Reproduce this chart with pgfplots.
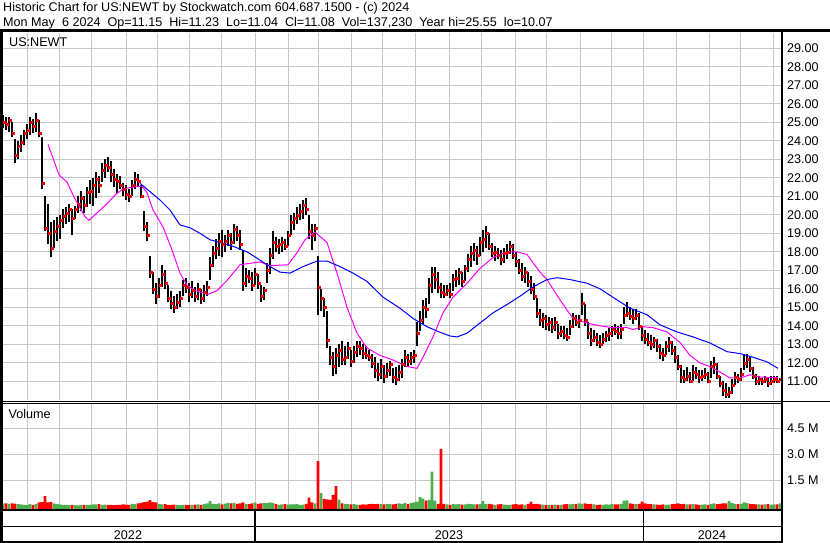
\documentclass[border=0pt]{standalone}
\usepackage{fontspec}
\setmainfont{Liberation Sans}
\usepackage{pgfplots}
\pgfplotsset{compat=1.18}
\usepackage{pgfplotstable}

\definecolor{gridgray}{RGB}{200,200,200}
\definecolor{upgreen}{RGB}{76,176,80}
\definecolor{dnred}{RGB}{255,0,0}
\definecolor{maone}{RGB}{255,0,255}
\definecolor{matwo}{RGB}{0,0,255}
\newcommand{\chartfont}{\fontsize{12.6}{14}\selectfont}

% daily bars, x in chart pixels: low, high, close
\pgfplotstableread{
x lo hi cl
3 24.7 25.4 25.0
6 24.6 25.3 24.9
9 24.5 25.3 25.1
12 24.2 25.0 24.4
15 22.8 24.1 23.2
18 23.0 24.0 23.7
21 23.4 24.3 23.9
24 23.8 24.6 24.4
27 24.1 24.9 24.6
30 24.3 25.3 25.0
33 24.4 25.2 24.8
36 24.5 25.5 25.1
39 24.2 25.1 24.4
42 21.4 24.2 21.7
45 19.1 21.0 19.3
48 18.4 20.6 19.0
51 17.7 19.6 18.2
54 18.2 19.7 19.1
57 18.6 19.9 19.4
60 18.7 20.0 19.7
63 19.3 20.3 19.9
66 19.5 20.4 20.1
69 19.6 20.6 20.3
72 18.9 20.3 19.8
75 19.8 20.5 20.3
78 20.1 21.0 20.6
81 20.2 21.3 20.9
84 20.1 21.0 20.5
87 20.4 21.5 21.2
90 20.6 21.9 21.3
93 20.5 22.0 21.6
96 20.9 22.3 21.9
99 21.2 22.1 21.6
102 21.8 22.8 22.4
105 22.0 23.0 22.7
108 22.3 23.1 22.6
111 21.8 22.9 22.2
114 21.5 22.5 21.9
117 21.2 22.2 21.8
120 21.4 22.1 21.6
123 21.0 21.7 21.4
126 20.8 21.6 21.1
129 20.7 21.4 21.0
132 21.0 21.9 21.6
135 21.4 22.3 21.9
138 21.5 22.2 21.8
141 20.9 21.6 21.0
144 19.1 20.2 19.4
147 18.6 19.6 18.9
150 16.6 17.8 16.9
153 15.7 16.9 16.0
156 15.2 16.3 15.6
159 15.5 16.6 16.2
162 16.1 17.3 16.8
165 16.0 17.0 16.3
168 15.3 16.2 15.5
171 14.9 15.9 15.2
174 14.7 15.6 15.0
177 14.9 15.7 15.3
180 15.0 15.9 15.5
183 15.6 16.5 16.2
186 15.8 16.6 16.1
189 15.3 16.3 15.7
192 15.5 16.4 15.9
195 15.3 16.1 15.6
198 15.4 16.3 16.0
201 15.2 16.0 15.5
204 15.3 16.2 15.8
207 15.6 16.4 16.1
210 16.5 17.7 17.3
213 17.2 18.3 17.9
216 17.6 18.7 18.2
219 17.8 19.0 18.6
222 17.7 19.2 18.4
225 18.0 18.9 18.6
228 18.3 19.2 18.9
231 18.1 19.0 18.5
234 18.4 19.5 19.2
237 18.6 19.4 18.9
240 18.1 19.2 18.4
243 15.9 18.1 16.3
246 16.1 17.1 16.7
249 16.3 17.0 16.6
252 15.9 16.9 16.2
255 16.2 17.1 16.8
258 16.0 16.8 16.3
261 15.3 16.2 15.6
264 15.4 16.1 15.9
267 16.3 17.4 17.0
270 16.8 18.2 17.8
273 17.6 19.1 18.5
276 18.0 18.8 18.3
279 17.9 18.7 18.4
282 18.0 18.8 18.5
285 18.1 18.7 18.3
288 18.3 19.1 18.9
291 18.9 20.0 19.6
294 19.2 20.1 19.8
297 19.5 20.4 20.0
300 19.7 20.6 20.2
303 19.8 20.8 20.5
306 20.0 20.9 20.3
309 18.7 20.0 19.1
312 18.1 19.5 18.9
315 18.6 19.5 19.3
318 14.6 17.8 16.1
321 14.8 16.0 15.5
324 14.5 15.5 15.0
327 12.8 14.8 13.2
330 11.9 12.9 12.3
333 11.3 12.6 11.8
336 11.4 12.8 12.4
339 11.8 13.0 12.7
342 11.9 13.2 12.2
345 11.9 12.9 12.3
348 12.2 13.1 12.8
351 11.8 12.7 12.1
354 12.0 12.9 12.6
357 12.3 13.2 12.9
360 12.4 13.2 12.8
363 12.2 13.0 12.5
366 12.2 12.9 12.4
369 12.1 12.7 12.3
372 11.7 12.5 12.0
375 11.2 12.3 11.6
378 11.0 12.0 11.4
381 11.1 12.2 11.8
384 10.9 11.9 11.3
387 11.2 12.0 11.6
390 11.3 12.1 11.9
393 10.9 11.7 11.2
396 10.8 11.8 11.1
399 11.0 11.9 11.5
402 11.2 12.2 11.9
405 11.8 12.7 12.3
408 11.8 12.5 12.1
411 11.9 12.6 12.3
414 12.0 12.7 12.4
417 12.9 14.2 13.6
420 13.7 14.8 14.3
423 14.1 15.4 15.0
426 14.4 15.5 14.9
429 15.2 16.6 16.2
432 15.8 17.2 16.8
435 16.0 17.2 16.5
438 15.8 16.9 16.1
441 15.5 16.3 15.8
444 15.5 16.2 15.7
447 15.6 16.2 15.9
450 15.5 16.3 15.7
453 15.9 16.8 16.5
456 16.1 17.0 16.6
459 16.2 17.1 16.9
462 16.1 16.9 16.4
465 16.4 17.3 17.1
468 16.9 17.9 17.6
471 17.2 18.3 17.9
474 17.5 18.5 18.1
477 17.3 18.3 17.8
480 17.8 18.8 18.5
483 18.0 19.2 18.7
486 18.2 19.4 19.0
489 18.1 19.0 18.3
492 17.7 18.5 17.9
495 17.5 18.3 18.0
498 17.6 18.2 17.8
501 17.3 18.1 17.6
504 17.4 18.2 17.9
507 17.6 18.4 18.0
510 17.9 18.6 18.3
513 17.6 18.4 17.8
516 17.2 18.0 17.5
519 16.8 17.6 17.0
522 16.4 17.4 16.7
525 16.3 17.2 16.9
528 16.1 16.9 16.4
531 15.7 16.7 16.0
534 15.4 16.3 15.6
537 14.4 15.5 14.7
540 14.0 14.9 14.3
543 13.9 14.7 14.4
546 13.8 14.6 14.1
549 13.7 14.5 14.2
552 13.6 14.4 13.9
555 13.7 14.5 14.2
558 13.3 14.1 13.6
561 13.4 14.0 13.7
564 13.3 14.0 13.5
567 13.2 13.9 13.4
570 13.5 14.3 14.0
573 13.9 14.7 14.4
576 14.0 14.6 14.2
579 13.9 14.6 14.3
582 14.6 15.8 15.2
585 14.0 15.2 14.3
588 13.3 14.2 13.6
591 12.9 13.9 13.2
594 13.1 13.8 13.4
597 12.9 13.6 13.1
600 12.8 13.5 13.0
603 13.0 13.6 13.3
606 13.1 13.7 13.5
609 13.2 13.9 13.6
612 13.4 14.0 13.8
615 13.5 14.1 13.7
618 13.3 14.0 13.6
621 13.3 14.1 13.8
624 14.1 15.0 14.6
627 14.5 15.3 14.7
630 14.3 15.0 14.5
633 14.1 14.9 14.4
636 14.3 14.9 14.6
639 13.8 14.7 14.0
642 13.2 14.0 13.5
645 13.0 13.8 13.3
648 12.9 13.6 13.1
651 12.7 13.5 13.0
654 12.8 13.4 13.2
657 12.6 13.3 12.9
660 12.2 13.0 12.5
663 12.1 12.8 12.4
666 12.4 13.2 12.9
669 12.6 13.4 13.1
672 12.4 13.2 12.7
675 12.0 12.9 12.3
678 11.6 12.4 11.8
681 10.9 11.9 11.2
684 10.9 11.6 11.1
687 11.0 11.8 11.3
690 10.9 11.5 11.0
693 11.0 11.9 11.5
696 11.1 11.8 11.4
699 10.9 11.6 11.2
702 11.0 11.6 11.3
705 11.1 11.7 11.4
708 10.9 11.5 11.0
711 11.2 12.1 11.8
714 11.4 12.3 11.9
717 11.1 12.0 11.3
720 10.7 11.3 10.9
723 10.2 11.0 10.5
726 10.1 10.9 10.3
729 10.1 10.7 10.4
732 10.3 11.1 10.8
735 10.8 11.5 11.2
738 10.9 11.4 11.1
741 11.0 11.7 11.4
744 11.6 12.5 12.0
747 11.7 12.5 12.2
750 11.5 12.3 11.7
753 11.1 11.8 11.3
756 10.8 11.4 11.0
759 10.8 11.3 11.1
762 10.8 11.2 11.0
765 10.9 11.3 11.1
768 10.7 11.2 10.9
771 10.8 11.3 11.0
774 10.9 11.3 11.1
777 10.9 11.3 11.0
780 11.0 11.2 11.1
}\tabohlc

% short moving average (magenta)
\pgfplotstableread{
x p
48 23.8
53 23.07
59 22.15
67 21.77
74 20.96
80 20.37
85 19.9
89 19.7
97 20.1
107 20.6
115 21.07
123 21.4
133 21.5
142 21.55
147 21.2
153 20.26
163 19.35
172 18.1
180 16.85
187 16.2
195 15.9
208 15.7
217 15.9
227 16.45
240 17.3
253 17.4
260 17.45
270 17.25
288 17.3
297 17.95
305 18.65
315 19.07
327 18.5
337 16.85
347 15.0
357 13.6
367 12.8
380 12.4
393 12.15
407 11.8
417 11.7
423 12.3
433 13.4
443 14.7
453 15.55
467 16.3
480 17.1
493 17.7
507 18.0
517 18.0
527 17.85
540 16.9
547 16.5
557 15.65
567 14.85
573 14.4
587 14.15
600 14.0
613 13.9
627 13.9
633 13.8
643 13.95
653 13.9
667 13.67
680 13.1
690 12.4
700 11.99
710 11.8
720 11.5
730 11.18
740 11.18
750 11.35
760 11.23
778 11.2
}\tabmaone

% long moving average (blue)
\pgfplotstableread{
x p
140 21.7
150 21.25
160 20.8
170 20.26
180 19.45
190 19.3
200 19.0
210 18.65
220 18.5
233 18.3
247 18.0
260 17.55
270 17.2
280 16.9
290 16.85
303 17.2
317 17.5
327 17.5
340 17.2
353 16.85
367 16.4
383 15.55
400 14.95
413 14.4
427 13.95
440 13.65
450 13.45
457 13.4
467 13.6
480 14.15
493 14.7
507 15.15
520 15.6
533 16.1
547 16.5
557 16.6
570 16.5
587 16.3
600 16.0
617 15.4
630 14.95
647 14.6
660 14.05
677 13.67
693 13.4
710 13.07
727 12.6
740 12.5
753 12.3
767 12.05
778 11.7
}\tabmatwo

% volume in millions, up days
\pgfplotstableread{
x v
3 0.15
9 0.12
18 0.10
21 0.08
24 0.05
27 0.04
30 0.10
36 0.12
54 0.15
57 0.10
60 0.08
63 0.06
66 0.05
69 0.04
75 0.04
78 0.03
81 0.05
87 0.05
90 0.06
93 0.09
96 0.08
102 0.06
105 0.07
132 0.12
135 0.10
159 0.12
162 0.08
177 0.05
180 0.04
183 0.06
192 0.05
198 0.08
204 0.10
207 0.15
210 0.27
213 0.12
216 0.10
219 0.14
225 0.13
228 0.17
234 0.18
246 0.12
255 0.20
264 0.18
267 0.16
270 0.20
273 0.18
279 0.06
282 0.08
288 0.07
291 0.09
294 0.08
297 0.10
300 0.06
303 0.07
315 0.15
321 0.74
339 0.36
345 0.12
348 0.10
354 0.10
357 0.07
381 0.10
387 0.12
390 0.10
399 0.15
402 0.12
405 0.18
411 0.16
414 0.20
417 0.25
420 0.50
423 0.42
429 0.35
432 1.98
435 0.30
447 0.08
453 0.10
456 0.08
459 0.10
465 0.09
468 0.12
471 0.10
474 0.08
480 0.12
483 0.28
486 0.10
495 0.06
504 0.07
507 0.05
510 0.06
525 0.06
543 0.07
549 0.05
555 0.07
561 0.06
570 0.08
573 0.12
579 0.14
582 0.12
594 0.08
603 0.06
606 0.08
609 0.07
612 0.10
621 0.12
624 0.30
627 0.32
636 0.10
654 0.08
666 0.06
669 0.07
687 0.08
693 0.10
702 0.07
705 0.09
711 0.12
714 0.15
729 0.28
732 0.18
735 0.12
741 0.12
744 0.20
747 0.16
759 0.08
765 0.08
771 0.07
774 0.09
780 0.14
}\tabvolup

% volume in millions, down days
\pgfplotstableread{
x v
6 0.14
12 0.14
15 0.13
33 0.06
39 0.20
42 0.22
45 0.57
48 0.20
51 0.22
72 0.05
84 0.06
99 0.10
108 0.05
111 0.06
114 0.04
117 0.05
120 0.06
123 0.08
126 0.07
129 0.06
138 0.15
141 0.18
144 0.22
147 0.25
150 0.33
153 0.22
156 0.20
165 0.10
168 0.06
171 0.05
174 0.07
186 0.05
189 0.06
195 0.07
201 0.06
222 0.09
231 0.14
237 0.12
240 0.15
243 0.20
249 0.10
252 0.15
258 0.12
261 0.15
276 0.10
285 0.10
306 0.12
309 0.48
312 0.20
318 2.60
324 0.40
327 0.38
330 0.35
333 0.64
336 1.15
342 0.15
351 0.08
360 0.05
363 0.08
366 0.07
369 0.10
372 0.12
375 0.10
378 0.12
384 0.08
393 0.09
396 0.12
408 0.10
426 0.30
438 0.12
441 3.30
444 0.12
450 0.06
462 0.07
477 0.09
489 0.12
492 0.08
498 0.08
501 0.10
513 0.08
516 0.10
519 0.07
522 0.09
528 0.12
531 0.25
534 0.10
537 0.12
540 0.08
546 0.06
552 0.06
558 0.05
564 0.08
567 0.10
576 0.10
585 0.15
588 0.10
591 0.12
597 0.06
600 0.07
615 0.08
618 0.09
630 0.15
633 0.12
639 0.12
642 0.25
645 0.15
648 0.12
651 0.10
657 0.07
660 0.06
663 0.08
672 0.10
675 0.12
678 0.14
681 0.10
684 0.12
690 0.09
696 0.08
699 0.06
708 0.06
717 0.10
720 0.12
723 0.15
726 0.14
738 0.10
750 0.12
753 0.10
756 0.09
762 0.07
768 0.10
777 0.08
}\tabvoldn

\pgfplotsset{
  panel/.style={
    scale only axis,
    width=778.3pt,
    xmin=2.7, xmax=781,
    enlargelimits=false,
    axis line style={draw=none},
    tick style={draw=none},
    xtick={27.3,59.3,91.7,126,157.3,189.3,221.7,255,288.3,318.3,351.7,382.7,415,449.3,481.7,515,546,580,611.7,643.3,676.7,709.3,740.7,773.3},
    xticklabels={},
    grid=major,
    major grid style={gridgray, line width=1pt},
    yticklabel pos=right,
    every tick label/.append style={font=\chartfont, text=black},
    yticklabel style={anchor=west, inner sep=0pt, xshift=6pt},
    anchor=south west,
  },
}

\begin{document}
\begin{tikzpicture}[x=1pt, y=-1pt]
\fill[white] (0,0) rectangle (830,543);
\useasboundingbox (0,0) rectangle (830,543);

% price panel
\begin{axis}[panel,
  at={(2.7pt,-400pt)},
  height=367.5pt,
  ymin=9.989, ymax=29.854,
  ytick={11,12,...,29},
  /pgf/number format/.cd, fixed, fixed zerofill, precision=2, assume math mode=true,
]
\addplot[black, line width=1.3pt, quiver={u=0, v=\thisrow{hi}-\thisrow{lo}}]
  table[x=x, y=lo] {\tabohlc};
\addplot[dnred, only marks, mark=square*, mark size=1pt,
  mark options={xshift=1pt}]
  table[x=x, y=cl] {\tabohlc};
\addplot[maone, line width=1pt] table[x=x, y=p] {\tabmaone};
\addplot[matwo, line width=1pt] table[x=x, y=p] {\tabmatwo};
\end{axis}

% volume panel
\begin{axis}[panel,
  at={(2.7pt,-509.3pt)},
  height=105.8pt,
  ymin=0, ymax=6.139,
  ytick={1.7,3.2,4.7},
  yticklabels={1.5 M,3.0 M,4.5 M},
]
\addplot[ybar, bar width=2.7pt, fill=upgreen, draw=none]
  table[x=x, y expr=\thisrow{v}+0.2] {\tabvolup};
\addplot[ybar, bar width=2.7pt, fill=dnred, draw=none]
  table[x=x, y expr=\thisrow{v}+0.2] {\tabvoldn};
\end{axis}

% frame
\fill[black] (0,29.5) rectangle (830,32.5);
\fill[black] (0,29.5) rectangle (2.7,542.5);
\fill[black] (780.8,29.5) rectangle (783.3,542.5);
\draw[black, line width=1pt] (0,401) -- (830,401);
\draw[black, line width=1pt] (0,403) -- (781,403);
\fill[black] (0,509.3) rectangle (783,510.8);
\fill[black] (0,525.7) rectangle (783,527.3);
\fill[black] (0,541) rectangle (783,542.5);
\fill[black] (254.2,510) rectangle (255.9,542);
\fill[black] (642.5,510) rectangle (644.2,542);

% texts
\node[anchor=base west, inner sep=0pt, font=\chartfont] at (3,11.5)
  {Historic Chart for US:NEWT by Stockwatch.com 604.687.1500 - (c) 2024};
\node[anchor=base west, inner sep=0pt, font=\chartfont] at (3,26.5)
  {Mon May\ \ 6 2024\ \ Op=11.15\ \ Hi=11.23\ \ Lo=11.04\ \ Cl=11.08\ \ Vol=137,230\ \ Year hi=25.55\ \ lo=10.07};
\node[anchor=base west, inner sep=0pt, font=\chartfont] at (9,46.5) {US:NEWT};
\node[anchor=base west, inner sep=0pt, font=\chartfont] at (8.5,418) {Volume};
\node[anchor=base, inner sep=0pt, font=\chartfont] at (128,539) {2022};
\node[anchor=base, inner sep=0pt, font=\chartfont] at (449,539) {2023};
\node[anchor=base, inner sep=0pt, font=\chartfont] at (712,539) {2024};
\end{tikzpicture}
\end{document}
